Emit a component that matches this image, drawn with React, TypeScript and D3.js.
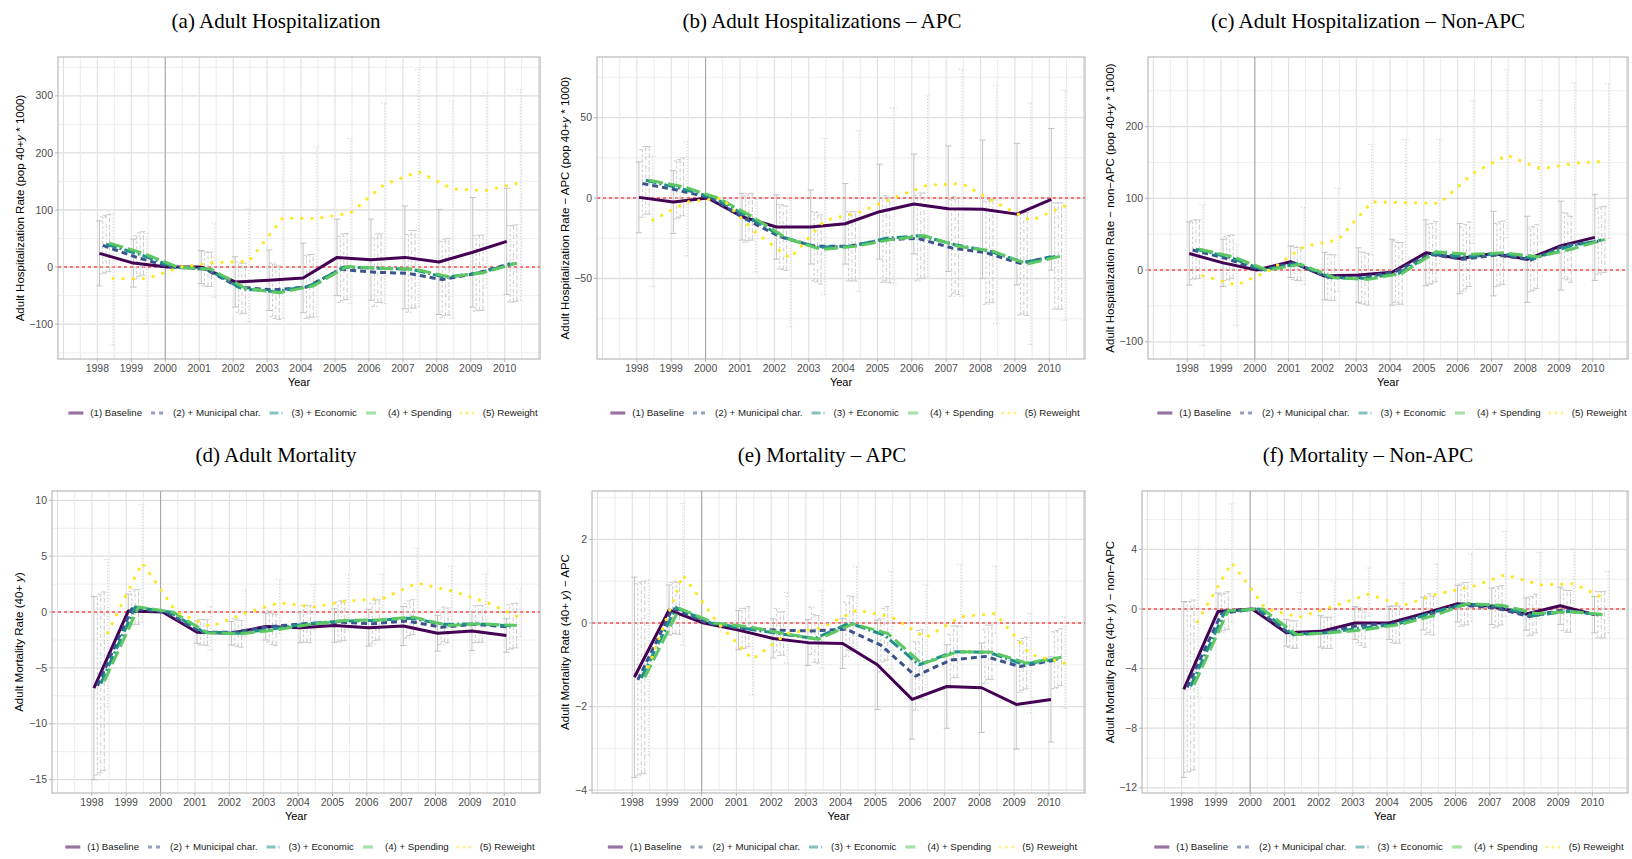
import * as d3 from 'd3';
import { useMemo } from 'react';

const YEARS = [1998, 1999, 2000, 2001, 2002, 2003, 2004, 2005, 2006, 2007, 2008, 2009, 2010];
const X_TICKS = [1998, 1999, 2000, 2001, 2002, 2003, 2004, 2005, 2006, 2007, 2008, 2009, 2010];
const SERIES_LABELS = ['(1) Baseline', '(2) + Municipal char.', '(3) + Economic', '(4) + Spending', '(5) Reweight'];

// (a) Adult hospitalization
const hospBase = [24, 7, 0, 0, -26, -23, -19, 17, 13, 17, 9, 26, 45];
const hospMuni = [38, 17, 0, -3, -35, -40, -35, -4, -9, -11, -22, -11, 6];
const hospEcon = [40, 22, 0, -4, -38, -43, -33, 0, -2, -4, -18, -10, 6];
const hospSpend = [42, 24, 0, -4, -37, -45, -33, 1, -2, -4, -17, -10, 7];
const hospRew = [-20, -20, 0, 8, 10, 86, 85, 95, 145, 167, 137, 134, 148];
const hospCiBase = [57, 42, null, 29, 44, 53, 61, 67, 71, 90, 92, 96, 93];
const hospCiAdj = [50, 38, null, 30, 44, 47, 55, 58, 60, 68, 67, 66, 67];
const hospRewLo = [-137, -100, null, -53, -96, -90, -87, -64, -64, -70, -90, -37, -58];
const hospRewHi = [94, 59, null, 77, 103, 200, 211, 225, 287, 346, 291, 305, 310];

// (b) Adult hospitalizations - APC
const apcBase = [0.4, -2.5, 0, -11.6, -18, -18, -16, -8.5, -3.7, -6.6, -7, -10, -0.8];
const apcMuni = [9, 5, 0, -13, -24, -30, -30, -26, -25, -31, -34, -40.6, -36];
const apcEcon = [11, 6, 0, -12, -24.4, -30.6, -30, -25, -23.4, -29, -33, -40, -36];
const apcSpend = [11, 7, 0, -11.6, -25, -32, -30, -26, -23.4, -30, -33, -41, -36];
const apcRew = [-13.7, -2.5, 0, -21.5, -37.5, -14, -9, 0, 8, 9, -3, -14, -5];
const apcCiBase = [22, 19.5, null, 14.5, 20, 23, 25, 29.5, 31, 39, 43, 44, 44];
const apcCiAdj = [21, 18, null, 14.5, 20, 21.5, 21.5, 26.5, 26.5, 30, 32, 32, 33];
const apcRewLo = [-55, -36, null, -46, -80, -60, -58, -53, -49, -61, -78, -91, -76];
const apcRewHi = [26, 35, null, 0, 2, 37, 42, 56, 64, 80, 70, 59, 67];

// (c) Adult hospitalization - non-APC
const napcBase = [23, 10, 0, 11.6, -8.4, -7, -3, 24, 16, 23, 15, 34, 45.5];
const napcMuni = [28, 16, 0, 10, -10, -10.7, -2.3, 22, 15, 21, 14, 34, 40];
const napcEcon = [29, 17.7, 0, 8.4, -10.7, -11.6, -4.6, 23, 18.6, 23, 16, 32.5, 42];
const napcSpend = [29, 18.6, 0, 8, -10.7, -13, -4.6, 25.6, 22, 24, 18.6, 29, 42.8];
const napcRew = [-8, -21, 0, 33, 42, 95, 94, 93, 135, 160, 141, 149, 152];
const napcCiBase = [44, 33, null, 22, 33, 38, 46, 46, 49, 59, 60, 62, 60];
const napcCiAdj = [41, 30.5, null, 23, 32, 36, 43, 42, 45, 44, 44.5, 46, 46];
const napcRewLo = [-105, -77, null, -20, -30, 21, 14, 9, 37, 45, 39, 37, 44];
const napcRewHi = [91, 36, null, 87, 114, 175, 182, 182, 236, 279, 237, 261, 260];

// (d) Adult mortality
const mortBase = [-6.8, 0.1, 0, -1.8, -1.9, -1.3, -1.4, -1.2, -1.4, -1.25, -1.9, -1.7, -2.1];
const mortMuni = [-6.6, 0.3, 0, -1.8, -1.8, -1.3, -1.05, -0.9, -1.05, -0.8, -1.35, -1.1, -1.35];
const mortEcon = [-6.4, 0.45, 0, -1.8, -1.9, -1.5, -1.05, -0.8, -0.75, -0.55, -1.1, -1.05, -1.25];
const mortSpend = [-6.2, 0.45, 0, -1.85, -1.95, -1.6, -1.1, -0.75, -0.7, -0.45, -1.2, -1.05, -1.2];
const mortRew = [-1.85, 4.4, 0, -1.3, -0.1, 0.84, 0.45, 1.0, 1.2, 2.6, 1.9, 0.9, -0.5];
const mortCiBase = [8.2, 1.5, null, 1.0, 1.05, 1.2, 1.35, 1.5, 1.65, 1.75, 1.6, 1.75, 1.5];
const mortCiAdj = [8, 1.55, null, 1.15, 1.2, 1.4, 1.65, 1.8, 1.8, 1.55, 1.55, 1.65, 2];
const mortRewLo = [-8.5, -0.9, null, -3.4, -2.2, -1.9, -1.6, -1.6, -1.3, -1.3, -0.7, -0.7, -2.2];
const mortRewHi = [4.7, 9.6, null, 0.5, 2, 2.9, 2.5, 3.4, 3.4, 5.7, 4.1, 3.4, 2.1];

// (e) Mortality - APC
const mapcBase = [-1.3, 0.31, 0, -0.17, -0.37, -0.47, -0.49, -1.0, -1.83, -1.52, -1.55, -1.95, -1.83];
const mapcMuni = [-1.36, 0.35, 0, -0.13, -0.17, -0.19, -0.15, -0.53, -1.27, -0.89, -0.8, -1.04, -0.89];
const mapcEcon = [-1.32, 0.37, 0, -0.13, -0.26, -0.37, 0, -0.29, -1.0, -0.69, -0.7, -0.99, -0.86];
const mapcSpend = [-1.3, 0.35, 0, -0.09, -0.25, -0.39, -0.02, -0.25, -0.98, -0.69, -0.7, -0.96, -0.82];
const mapcRew = [-1.05, 1.15, 0, -0.87, -0.25, -0.12, 0.31, 0.15, -0.35, 0.15, 0.23, -0.75, -0.96];
const mapcCiBase = [2.4, 0.6, null, 0.47, 0.47, 0.55, 0.6, 1.07, 0.95, 1.0, 1.07, 1.07, 1.02];
const mapcCiAdj = [2.3, 0.62, null, 0.48, 0.52, 0.57, 0.65, 0.64, 0.82, 0.62, 0.65, 0.62, 0.68];
const mapcRewLo = [-3.16, -0.53, null, -1.72, -0.96, -1.08, -0.69, -1.1, -1.84, -0.09, -0.25, -2.16, -2.04];
const mapcRewHi = [1.03, 2.86, null, 0, 0.73, 0.77, 1.35, 1.24, 0.91, 1.4, 1.36, 0.23, 0.15];

// (f) Mortality - non-APC
const mnapcBase = [-5.4, -0.16, 0, -1.6, -1.5, -0.94, -0.94, -0.31, 0.36, 0.18, -0.34, 0.22, -0.38];
const mnapcMuni = [-5.26, -0.3, 0, -1.66, -1.6, -1.1, -1.0, -0.42, 0.25, 0.07, -0.5, -0.05, -0.38];
const mnapcEcon = [-5.2, -0.2, 0, -1.72, -1.6, -1.27, -1.05, -0.27, 0.34, 0.18, -0.45, -0.16, -0.38];
const mnapcSpend = [-5.1, -0.1, 0, -1.72, -1.6, -1.39, -1.05, -0.45, 0.36, 0.25, -0.31, -0.16, -0.38];
const mnapcRew = [-0.85, 3.1, 0, -0.55, 0.2, 1.0, 0.22, 1.0, 1.48, 2.3, 1.62, 1.7, 0.58];
const mnapcCiBase = [5.9, 1.23, null, 0.9, 1.05, 1.1, 1.1, 1.1, 1.23, 1.23, 1.08, 1.25, 1.22];
const mnapcCiAdj = [5.7, 1.26, null, 0.92, 1.05, 1.18, 1.25, 1.3, 1.42, 1.32, 1.3, 1.4, 1.56];
const mnapcRewLo = [-5.9, -0.9, null, -1.6, -1.16, -0.49, -0.7, -0.27, -0.83, -0.49, -0.72, -0.27, -1.6];
const mnapcRewHi = [4.16, 7.07, null, 1.12, 1.86, 2.75, 1.74, 3.02, 3.7, 5.2, 3.8, 4.03, 2.53];

type PanelDef = {
  title: string;
  yTitle: string;
  italicAfter: string;
  yTitleRest: string;
  yDomain: [number, number];
  yTicks: number[];
  yMinor: number[];
  values: number[][];
  ciBase: (number | null)[];
  ciAdj: (number | null)[];
  rewLo: (number | null)[];
  rewHi: (number | null)[];
};

const PANELS: PanelDef[] = [
  {
    title: '(a) Adult Hospitalization',
    yTitle: 'Adult Hospitalization Rate (pop 40+',
    italicAfter: 'y',
    yTitleRest: ' * 1000)',
    yDomain: [-161, 368],
    yTicks: [-100, 0, 100, 200, 300],
    yMinor: [-150, -50, 50, 150, 250, 350],
    values: [hospBase, hospMuni, hospEcon, hospSpend, hospRew],
    ciBase: hospCiBase,
    ciAdj: hospCiAdj,
    rewLo: hospRewLo,
    rewHi: hospRewHi,
  },
  {
    title: '(b) Adult Hospitalizations – APC',
    yTitle: 'Adult Hospitalization Rate − APC (pop 40+',
    italicAfter: 'y',
    yTitleRest: ' * 1000)',
    yDomain: [-100, 87.6],
    yTicks: [-50, 0, 50],
    yMinor: [-75, -25, 25, 75],
    values: [apcBase, apcMuni, apcEcon, apcSpend, apcRew],
    ciBase: apcCiBase,
    ciAdj: apcCiAdj,
    rewLo: apcRewLo,
    rewHi: apcRewHi,
  },
  {
    title: '(c) Adult Hospitalization – Non-APC',
    yTitle: 'Adult Hospitalization Rate − non−APC (pop 40+',
    italicAfter: 'y',
    yTitleRest: ' * 1000)',
    yDomain: [-124, 297],
    yTicks: [-100, 0, 100, 200],
    yMinor: [-50, 50, 150, 250],
    values: [napcBase, napcMuni, napcEcon, napcSpend, napcRew],
    ciBase: napcCiBase,
    ciAdj: napcCiAdj,
    rewLo: napcRewLo,
    rewHi: napcRewHi,
  },
  {
    title: '(d) Adult Mortality',
    yTitle: 'Adult Mortality Rate (40+ ',
    italicAfter: 'y',
    yTitleRest: ')',
    yDomain: [-16.2, 10.84],
    yTicks: [-15, -10, -5, 0, 5, 10],
    yMinor: [-12.5, -7.5, -2.5, 2.5, 7.5],
    values: [mortBase, mortMuni, mortEcon, mortSpend, mortRew],
    ciBase: mortCiBase,
    ciAdj: mortCiAdj,
    rewLo: mortRewLo,
    rewHi: mortRewHi,
  },
  {
    title: '(e) Mortality – APC',
    yTitle: 'Adult Mortality Rate (40+ ',
    italicAfter: 'y',
    yTitleRest: ') − APC',
    yDomain: [-4.07, 3.16],
    yTicks: [-4, -2, 0, 2],
    yMinor: [-3, -1, 1, 3],
    values: [mapcBase, mapcMuni, mapcEcon, mapcSpend, mapcRew],
    ciBase: mapcCiBase,
    ciAdj: mapcCiAdj,
    rewLo: mapcRewLo,
    rewHi: mapcRewHi,
  },
  {
    title: '(f) Mortality – Non-APC',
    yTitle: 'Adult Mortality Rate (40+ ',
    italicAfter: 'y',
    yTitleRest: ') − non−APC',
    yDomain: [-12.35, 7.92],
    yTicks: [-12, -8, -4, 0, 4],
    yMinor: [-10, -6, -2, 2, 6],
    values: [mnapcBase, mnapcMuni, mnapcEcon, mnapcSpend, mnapcRew],
    ciBase: mnapcCiBase,
    ciAdj: mnapcCiAdj,
    rewLo: mnapcRewLo,
    rewHi: mnapcRewHi,
  },
];

// panel boxes, in page pixels
const BOXES = [
  { left: 58, right: 540, top: 57, bottom: 359, titleX: 276, yTitleX: 20 },
  { left: 597, right: 1085, top: 57, bottom: 359, titleX: 822, yTitleX: 565 },
  { left: 1148, right: 1628, top: 57, bottom: 359, titleX: 1368, yTitleX: 1110 },
  { left: 52, right: 540, top: 491, bottom: 793, titleX: 276, yTitleX: 19 },
  { left: 592, right: 1085, top: 491, bottom: 793, titleX: 822, yTitleX: 565 },
  { left: 1142, right: 1628, top: 491, bottom: 793, titleX: 1368, yTitleX: 1110 },
];

const X_DOMAIN: [number, number] = [1996.84, 2011.04];
const DODGE = [0.06, 0.16, 0.26, 0.36, 0.46];
const COLORS = ['#440154', '#3b528b', '#21908c', '#5dc863', '#fde725'];
const LINE_DASH = [undefined, '6 4', '11 3 2 3', '14 5', '0.1 10'];
const BAR_DASH = [undefined, '3 2', '4 2 1 2', '5 2', '1 2'];
const SANS = '"Liberation Sans", Arial, Helvetica, sans-serif';
const SERIF = '"Liberation Serif", "Times New Roman", serif';
const fmt = d3.format('');

function measure(text: string, font: string) {
  const ctx = document.createElement('canvas').getContext('2d');
  if (!ctx) return text.length * 5;
  ctx.font = font;
  return ctx.measureText(text).width;
}

function Legend({ cx, cy }: { cx: number; cy: number }) {
  const items = useMemo(() => {
    const keyW = 15;
    let offset = 0;
    const placed = SERIES_LABELS.map((label, i) => {
      const w = measure(label, `9.7px ${SANS}`);
      const item = { label, i, x: offset, w };
      offset += keyW + 7 + w + 9;
      return item;
    });
    return { placed, total: offset - 9 };
  }, []);
  const start = cx - items.total / 2;
  return (
    <g>
      {items.placed.map((it) => (
        <g key={it.label} transform={`translate(${start + it.x},${cy})`}>
          <line
            x1={0}
            x2={15}
            y1={0}
            y2={0}
            stroke={COLORS[it.i]}
            strokeOpacity={0.55}
            strokeWidth={it.i === 4 ? 3 : 3.2}
            strokeDasharray={it.i === 0 ? undefined : it.i === 4 ? '0.1 6' : it.i === 1 ? '4 4' : it.i === 2 ? '9 3 1 3' : '10 5'}
            strokeLinecap={it.i === 4 ? 'round' : 'butt'}
          />
          <text x={22} y={0} dy="0.35em" fontSize={9.7} fontFamily={SANS} fill="#1a1a1a">
            {it.label}
          </text>
        </g>
      ))}
    </g>
  );
}

function Panel({ def, box, idx }: { def: PanelDef; box: (typeof BOXES)[number]; idx: number }) {
  const x = d3.scaleLinear().domain(X_DOMAIN).range([box.left, box.right]);
  const y = d3.scaleLinear().domain(def.yDomain).range([box.bottom, box.top]);

  const gridX: number[] = [];
  for (let v = 1997; v <= 2011; v += 0.5) gridX.push(v);

  const bars: { sx: number; lo: number; hi: number; s: number }[] = [];
  def.values.forEach((vals, s) => {
    YEARS.forEach((yr, j) => {
      let lo: number | null = null;
      let hi: number | null = null;
      if (s === 4) {
        lo = def.rewLo[j];
        hi = def.rewHi[j];
      } else {
        const half = s === 0 ? def.ciBase[j] : def.ciAdj[j];
        if (half != null) {
          lo = vals[j] - half;
          hi = vals[j] + half;
        }
      }
      if (lo != null && hi != null) bars.push({ sx: yr + DODGE[s], lo, hi, s });
    });
  });

  const clipId = `clip-${idx}`;
  const yMid = (box.top + box.bottom) / 2;

  return (
    <g>
      <defs>
        <clipPath id={clipId}>
          <rect x={box.left} y={box.top} width={box.right - box.left} height={box.bottom - box.top} />
        </clipPath>
      </defs>
      <rect x={box.left} y={box.top} width={box.right - box.left} height={box.bottom - box.top} fill="#fff" />
      <g clipPath={`url(#${clipId})`}>
        {def.yMinor.map((t) => (
          <line key={`ym${t}`} x1={box.left} x2={box.right} y1={y(t)} y2={y(t)} stroke="#ebebeb" strokeWidth={0.8} />
        ))}
        {def.yTicks.map((t) => (
          <line key={`yM${t}`} x1={box.left} x2={box.right} y1={y(t)} y2={y(t)} stroke="#dedede" strokeWidth={1.3} />
        ))}
        {gridX.map((t) => (
          <line key={`x${t}`} x1={x(t)} x2={x(t)} y1={box.top} y2={box.bottom} stroke={Number.isInteger(t) ? '#e0e0e0' : '#e8e8e8'} strokeWidth={Number.isInteger(t) ? 1.1 : 0.9} />
        ))}
        <line x1={x(2000)} x2={x(2000)} y1={box.top} y2={box.bottom} stroke="#a3a3a3" strokeWidth={1} />
        <line x1={box.left} x2={box.right} y1={y(0)} y2={y(0)} stroke="#ff2a2a" strokeOpacity={0.8} strokeWidth={1.5} strokeDasharray="3 3" />

        {bars.map((b, k) => (
          <g key={`b${k}`} stroke={b.s === 0 ? '#c2c2c2' : '#cbcbcb'} strokeWidth={1} strokeDasharray={BAR_DASH[b.s]} fill="none">
            <line x1={x(b.sx)} x2={x(b.sx)} y1={y(b.lo)} y2={y(b.hi)} />
            <line x1={x(b.sx) - 3.2} x2={x(b.sx) + 3.2} y1={y(b.lo)} y2={y(b.lo)} />
            <line x1={x(b.sx) - 3.2} x2={x(b.sx) + 3.2} y1={y(b.hi)} y2={y(b.hi)} />
          </g>
        ))}

        {def.values.map((vals, s) => {
          const path = d3
            .line<number>()
            .x((_, j) => x(YEARS[j] + DODGE[s]))
            .y((v) => y(v))(vals);
          return (
            <path
              key={`l${s}`}
              d={path ?? ''}
              fill="none"
              stroke={COLORS[s]}
              strokeWidth={s === 4 ? 3.2 : 3}
              strokeDasharray={LINE_DASH[s]}
              strokeLinecap={s === 4 ? 'round' : 'butt'}
              strokeLinejoin="round"
            />
          );
        })}
      </g>
      <rect x={box.left} y={box.top} width={box.right - box.left} height={box.bottom - box.top} fill="none" stroke="#b3b3b3" strokeWidth={1.1} />

      {def.yTicks.map((t) => (
        <g key={`yt${t}`}>
          <line x1={box.left - 3} x2={box.left} y1={y(t)} y2={y(t)} stroke="#b3b3b3" />
          <text x={box.left - 5} y={y(t)} dy="0.35em" textAnchor="end" fontSize={10.5} fontFamily={SANS} fill="#4d4d4d">
            {fmt(t)}
          </text>
        </g>
      ))}
      {X_TICKS.map((t) => (
        <g key={`xt${t}`}>
          <line x1={x(t)} x2={x(t)} y1={box.bottom} y2={box.bottom + 3} stroke="#b3b3b3" />
          <text x={x(t)} y={box.bottom + 13} textAnchor="middle" fontSize={10.5} fontFamily={SANS} fill="#4d4d4d">
            {t}
          </text>
        </g>
      ))}
      <text x={(box.left + box.right) / 2} y={box.bottom + 27} textAnchor="middle" fontSize={11} fontFamily={SANS} fill="#000">
        Year
      </text>
      <text
        transform={`translate(${box.yTitleX},${yMid}) rotate(-90)`}
        textAnchor="middle"
        dy="0.35em"
        fontSize={11.5}
        fontFamily={SANS}
        fill="#000"
      >
        {def.yTitle}
        <tspan fontStyle="italic">{def.italicAfter}</tspan>
        {def.yTitleRest}
      </text>
      <text x={box.titleX} y={box.top - 29} textAnchor="middle" fontSize={21} fontFamily={SERIF} fill="#000">
        {def.title}
      </text>
      <Legend cx={(box.left + box.right) / 2 + 4} cy={box.bottom + 54} />
    </g>
  );
}

export default function App() {
  return (
    <svg width={1632} height={859} style={{ position: 'absolute', left: 0, top: 0, background: '#fff' }}>
      {PANELS.map((def, i) => (
        <Panel key={def.title} def={def} box={BOXES[i]} idx={i} />
      ))}
    </svg>
  );
}
